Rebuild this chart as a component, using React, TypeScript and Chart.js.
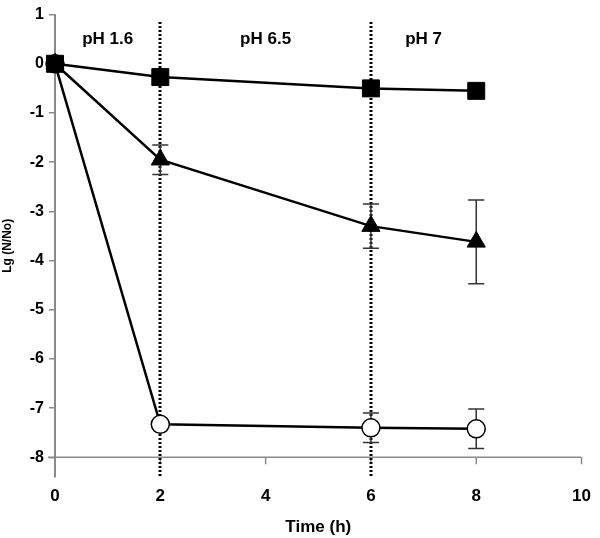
import React, { useEffect, useRef } from "react";
import { Chart, registerables } from "chart.js";

Chart.register(...registerables);

const timesH = [0, 2, 6, 8];
const squareVals = [0, -0.27, -0.5, -0.55];
const triangleVals = [0, -1.95, -3.3, -3.62];
const triangleErr = [0, 0.3, 0.45, 0.85];
const circleVals = [0, -7.33, -7.4, -7.42];
const circleErr = [0, 0, 0.3, 0.4];
const xTicks = [0, 2, 4, 6, 8, 10];
const yTicks = [1, 0, -1, -2, -3, -4, -5, -6, -7, -8];
const phBoundaries = [2, 6];
const phLabels = [
  { x: 1, text: "pH 1.6" },
  { x: 4, text: "pH 6.5" },
  { x: 7, text: "pH 7" },
];
const xAxisAt = -8;

const FONT = "'Liberation Sans', Arial, sans-serif";

const overlay = {
  id: "overlay",
  beforeDatasetsDraw(chart: any) {
    const { ctx, scales, chartArea } = chart;
    const xs = scales.x;
    const ys = scales.y;
    ctx.save();
    const yA = ys.getPixelForValue(xAxisAt);
    ctx.strokeStyle = "#8a8a8a";
    ctx.lineWidth = 1.5;
    ctx.beginPath();
    ctx.moveTo(chartArea.left - 7, yA);
    ctx.lineTo(xs.getPixelForValue(10), yA);
    ctx.stroke();
    for (const t of xTicks) {
      const px = xs.getPixelForValue(t);
      ctx.beginPath();
      ctx.moveTo(px, yA);
      ctx.lineTo(px, yA + 7);
      ctx.stroke();
    }
    ctx.strokeStyle = "#000";
    ctx.lineWidth = 3;
    ctx.setLineDash([2, 2]);
    for (const b of phBoundaries) {
      const px = Math.round(xs.getPixelForValue(b));
      ctx.beginPath();
      ctx.moveTo(px, ys.getPixelForValue(0.85));
      ctx.lineTo(px, chartArea.bottom);
      ctx.stroke();
    }
    ctx.setLineDash([]);
    ctx.fillStyle = "#000";
    ctx.font = `bold 17px ${FONT}`;
    ctx.textAlign = "center";
    ctx.textBaseline = "middle";
    for (const l of phLabels) {
      ctx.fillText(l.text, xs.getPixelForValue(l.x), ys.getPixelForValue(0.5));
    }
    const drawErr = (vals: number[], errs: number[]) => {
      ctx.strokeStyle = "#333";
      ctx.lineWidth = 1.5;
      vals.forEach((v, i) => {
        const e = errs[i];
        if (!e) return;
        const px = xs.getPixelForValue(timesH[i]);
        const top = ys.getPixelForValue(v + e);
        const bot = ys.getPixelForValue(v - e);
        ctx.beginPath();
        ctx.moveTo(px, top);
        ctx.lineTo(px, bot);
        ctx.moveTo(px - 8, top);
        ctx.lineTo(px + 8, top);
        ctx.moveTo(px - 8, bot);
        ctx.lineTo(px + 8, bot);
        ctx.stroke();
      });
    };
    drawErr(triangleVals, triangleErr);
    drawErr(circleVals, circleErr);
    ctx.restore();
  },
};

export default function App() {
  const ref = useRef<HTMLCanvasElement>(null);
  useEffect(() => {
    if (!ref.current) return;
    const mk = (vals: number[]) => timesH.map((t, i) => ({ x: t, y: vals[i] }));
    const chart = new Chart(ref.current, {
      type: "scatter",
      data: {
        datasets: [
          {
            data: mk(squareVals),
            showLine: true,
            clip: false,
            borderColor: "#000",
            borderWidth: 2.5,
            pointStyle: "rect",
            pointRadius: 12,
            pointBackgroundColor: "#000",
            pointBorderColor: "#000",
            pointBorderWidth: 1,
          },
          {
            data: mk(triangleVals),
            showLine: true,
            clip: false,
            borderColor: "#000",
            borderWidth: 2.5,
            pointStyle: "triangle",
            pointRadius: 10.5,
            pointBackgroundColor: "#000",
            pointBorderColor: "#000",
            pointBorderWidth: 1,
          },
          {
            data: mk(circleVals),
            showLine: true,
            clip: false,
            borderColor: "#000",
            borderWidth: 2.5,
            pointStyle: "circle",
            pointRadius: 9,
            pointBackgroundColor: "#fff",
            pointBorderColor: "#000",
            pointBorderWidth: 1.5,
          },
        ],
      },
      options: {
        animation: false,
        responsive: false,
        layout: { padding: { left: 0, right: 15, top: 12, bottom: 0 } },
        plugins: { legend: { display: false }, tooltip: { enabled: false } },
        scales: {
          x: {
            type: "linear",
            min: 0,
            max: 10,
            afterBuildTicks: (s: any) => {
              s.ticks = xTicks.map((v) => ({ value: v }));
            },
            afterFit: (s: any) => {
              s.height = 61;
            },
            grid: { display: false, drawTicks: false },
            border: { display: false },
            ticks: {
              padding: 9,
              color: "#000",
              font: { family: FONT, size: 17, weight: "bold" },
            },
            title: {
              display: true,
              text: "Time (h)",
              color: "#000",
              padding: { top: 4, bottom: 0 },
              font: { family: FONT, size: 17, weight: "bold" },
            },
          },
          y: {
            type: "linear",
            min: -8.4,
            max: 1,
            afterBuildTicks: (s: any) => {
              s.ticks = yTicks.map((v) => ({ value: v }));
            },
            afterFit: (s: any) => {
              s.width = 55;
            },
            grid: {
              drawOnChartArea: false,
              drawTicks: true,
              tickLength: 6,
              color: "#8a8a8a",
              lineWidth: 1.5,
            },
            border: { display: true, color: "#8a8a8a", width: 2 },
            ticks: {
              padding: 5,
              color: "#000",
              font: { family: FONT, size: 16, weight: "bold" },
            },
            title: {
              display: true,
              text: "Lg (N/No)",
              color: "#000",
              padding: { top: 0, bottom: 0 },
              font: { family: FONT, size: 12, weight: "bold" },
            },
          },
        },
      },
      plugins: [overlay],
    });
    return () => chart.destroy();
  }, []);
  return (
    <div style={{ position: "fixed", left: 0, top: 0, width: 600, height: 538, background: "#fff" }}>
      <canvas ref={ref} width={600} height={538} style={{ width: 600, height: 538, display: "block" }} />
    </div>
  );
}
